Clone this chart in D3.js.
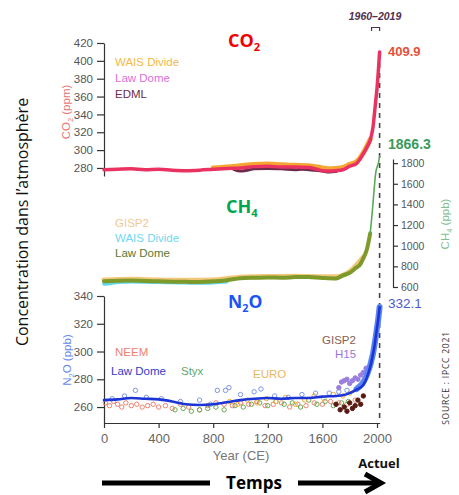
<!DOCTYPE html>
<html>
<head>
<meta charset="utf-8">
<script src="https://cdn.jsdelivr.net/npm/d3@7"></script>
<style>
  body { margin: 0; background: #fff; }
  svg text { font-family: "Liberation Sans", Arial, sans-serif; }
</style>
</head>
<body>
<svg id="chart" width="459" height="495"></svg>
<script>
// values
const xTicks = [0, 400, 800, 1200, 1600, 2000];
const co2Ticks = [280, 300, 320, 340, 360, 380, 400, 420];
const ch4Ticks = [600, 800, 1000, 1200, 1400, 1600, 1800];
const n2oTicks = [260, 280, 300, 320, 340];

// CO2 (ppm)
const co2Years = [0, 100, 200, 300, 400, 500, 600, 700, 800, 900, 1000, 1100, 1200, 1300, 1400, 1500, 1550, 1600, 1650, 1700, 1750, 1800, 1850, 1900, 1925, 1950, 1960, 1970, 1980, 1990, 2000, 2010, 2019];
const co2LawDome = [278, 278.5, 279, 278, 278.5, 277.5, 277, 277.5, 278.5, 279.5, 280, 281.5, 282, 281, 281, 280.5, 279, 277, 276.5, 277, 278, 282, 285, 296, 303, 311, 317, 325, 339, 354, 369, 389, 409.9];
const co2WaisYears = [800, 900, 1000, 1100, 1200, 1300, 1400, 1500, 1600, 1650, 1700, 1750, 1800, 1850, 1900, 1950];
const co2Wais = [280, 281, 282.5, 284, 284.5, 283.5, 283, 282.5, 280, 279, 279.5, 280.5, 284, 287, 297, 312];
const co2EdmlYears = [950, 1000, 1050, 1100, 1200, 1300, 1400, 1450, 1500, 1550, 1600, 1650, 1700];
const co2Edml = [278.5, 276.5, 277.5, 279, 279.5, 279, 278, 278.5, 278, 277.5, 276.5, 275.5, 276];

// CH4 (ppb)
const ch4Years = [0, 100, 200, 300, 400, 500, 600, 700, 800, 900, 1000, 1100, 1200, 1300, 1400, 1500, 1600, 1700, 1750, 1800, 1850, 1875, 1900, 1925, 1950];
const ch4LawDome = [655, 660, 662, 658, 655, 652, 650, 648, 655, 665, 685, 690, 693, 690, 696, 698, 688, 682, 712, 738, 790, 815, 880, 960, 1120];
const ch4GispYears = [0, 200, 400, 600, 800, 1000, 1200, 1400, 1600, 1700, 1800, 1900];
const ch4Gisp = [668, 675, 668, 665, 668, 695, 702, 705, 700, 700, 750, 890];
const ch4WaisYears = [0, 50, 100, 150, 200, 300, 400, 500, 600, 700, 800, 900];
const ch4Wais = [630, 635, 645, 648, 650, 648, 645, 643, 640, 638, 642, 650];
const ch4ModernYears = [1950, 1960, 1970, 1980, 1990, 2000, 2010, 2019];
const ch4Modern = [1120, 1250, 1400, 1560, 1700, 1760, 1800, 1866.3];

// N2O (ppb)
const n2oYears = [0, 100, 200, 300, 400, 500, 600, 700, 800, 900, 1000, 1100, 1200, 1300, 1400, 1500, 1600, 1700, 1750, 1800, 1850, 1900, 1925, 1950, 1960, 1970, 1980, 1990, 2000, 2010, 2019];
const n2oLawDome = [265, 265.5, 266.5, 266, 265.5, 264, 262, 261.5, 262, 263.5, 265, 266, 266.5, 266, 266.5, 266.5, 267.5, 268, 268.5, 270, 272.5, 276, 281, 289, 293, 298, 303, 310, 317, 324, 332.1];
const n2oModernYears = [1850, 1875, 1900, 1925, 1940, 1950, 1960, 1970, 1980, 1990, 2000, 2010, 2019];
const n2oModern = [273, 275, 278, 283, 287, 290, 294, 298, 304, 310, 317, 324, 332.1];

const neemYears = [10, 40, 70, 100, 130, 160, 200, 240, 280, 320, 360, 400, 450, 500, 560, 620, 700, 760, 820, 880, 940, 1000, 1060, 1120, 1180, 1240, 1300, 1360, 1420, 1480, 1540, 1600, 1660, 1720, 1780, 1840];
const neemVals = [263, 261, 264, 262, 260, 263, 261, 262, 260, 261, 262, 260, 261, 259, 262, 260, 258, 261, 263, 262, 261, 263, 262, 264, 261, 262, 263, 260, 262, 261, 263, 262, 264, 263, 262, 265];
const styxYears = [520, 580, 640, 700, 760, 820, 880, 960, 1020, 1080, 1140, 1200, 1260, 1320, 1380, 1440, 1500, 1560, 1620, 1680, 1740, 1790];
const styxVals = [258, 259, 257, 258, 259, 260, 258, 261, 260, 262, 263, 261, 264, 262, 263, 260, 265, 262, 264, 261, 263, 264];
const euroYears = [920, 980, 1050, 1120, 1190, 1260, 1330, 1400, 1470, 1540, 1610, 1680, 1750, 1800];
const euroVals = [264, 262, 265, 263, 266, 264, 267, 262, 265, 268, 266, 269, 268, 270];
const lawPtsYears = [60, 150, 230, 310, 420, 560, 700, 780, 830, 890, 915, 1000, 1100, 1150, 1250, 1350, 1450, 1550, 1650, 1720, 1780];
const lawPtsVals = [266, 268, 272, 267, 266, 264, 265, 262, 272, 272, 274, 269, 271, 273, 268, 267, 269, 270, 270, 271, 272];
const gispYears = [1700, 1730, 1760, 1780, 1800, 1820, 1840, 1860, 1880, 1900];
const gispVals = [262, 258, 260, 257, 263, 259, 261, 265, 262, 268];
const h15Years = [1720, 1740, 1760, 1780, 1800, 1820, 1840, 1860, 1880, 1900, 1920];
const h15Vals = [274, 278, 279, 280, 277, 279, 281, 280, 283, 285, 288];

const co2Legend = ["WAIS Divide", "Law Dome", "EDML"];
const ch4Legend = ["GISP2", "WAIS Divide", "Law Dome"];

const svg = d3.select("#chart");

const x = d3.scaleLinear().domain([0, 2019]).range([104, 379.6]);
const yCO2 = d3.scaleLinear().domain([271, 420]).range([176, 43]);
const yCH4 = d3.scaleLinear().domain([600, 1840]).range([287, 159]);
const yN2O = d3.scaleLinear().domain([248.5, 340]).range([423, 296]);
const fmt = d3.format("d");

function pairs(xs, ys) { return xs.map((d, i) => [d, ys[i]]); }

function drawLine(scale, data, color, width) {
  const line = d3.line()
    .x(d => x(d[0]))
    .y(d => scale(d[1]))
    .curve(d3.curveMonotoneX);
  svg.append("path")
    .datum(data)
    .attr("fill", "none")
    .attr("stroke", color)
    .attr("stroke-width", width)
    .attr("stroke-linejoin", "round")
    .attr("stroke-linecap", "round")
    .attr("d", line);
}

function styleAxis(g, size, color) {
  g.selectAll("path, line").attr("stroke", "#333").attr("stroke-width", 1.2);
  g.selectAll("text").attr("font-size", size).attr("fill", color)
    .attr("font-family", "'Liberation Sans', Arial, sans-serif");
}

// axes
const gx = svg.append("g").attr("transform", "translate(0,423)")
  .call(d3.axisBottom(x).tickValues(xTicks).tickFormat(fmt).tickSize(5).tickSizeOuter(0).tickPadding(6));
styleAxis(gx, 13, "#666");

const gco2 = svg.append("g").attr("transform", "translate(104,0)")
  .call(d3.axisLeft(yCO2).tickValues(co2Ticks).tickFormat(fmt).tickSize(7).tickSizeOuter(0).tickPadding(4));
styleAxis(gco2, 11.5, "#555");

const gn2o = svg.append("g").attr("transform", "translate(104,0)")
  .call(d3.axisLeft(yN2O).tickValues(n2oTicks).tickFormat(fmt).tickSize(7).tickSizeOuter(0).tickPadding(4));
styleAxis(gn2o, 11.5, "#555");

const gch4 = svg.append("g").attr("transform", "translate(393,0)")
  .call(d3.axisRight(yCH4).tickValues(ch4Ticks).tickFormat(fmt).tickSize(5).tickSizeOuter(0).tickPadding(3));
styleAxis(gch4, 10.5, "#555");

// dashed "today" line
svg.append("line")
  .attr("x1", x(2019)).attr("x2", x(2019))
  .attr("y1", 53).attr("y2", 423)
  .attr("stroke", "#444").attr("stroke-width", 1.6)
  .attr("stroke-dasharray", "5,5");

// CO2 records
drawLine(yCO2, pairs(co2EdmlYears, co2Edml), "#6e2a4a", 3);
drawLine(yCO2, pairs(co2WaisYears, co2Wais), "#f7a531", 5);
drawLine(yCO2, pairs(co2Years, co2LawDome), "#ea3262", 3.5);

// CH4 records
drawLine(yCH4, pairs(ch4GispYears, ch4Gisp), "#f2c77a", 5);
drawLine(yCH4, pairs(ch4WaisYears, ch4Wais), "#5fd8ea", 3.5);
drawLine(yCH4, pairs(ch4Years, ch4LawDome), "#7d9a2a", 4);
drawLine(yCH4, pairs(ch4ModernYears, ch4Modern), "#5aaa5a", 1.6);

// N2O scatter records
function scatter(xs, ys, color, filled) {
  svg.append("g").selectAll("circle")
    .data(pairs(xs, ys))
    .enter().append("circle")
    .attr("cx", d => x(d[0]))
    .attr("cy", d => yN2O(d[1]))
    .attr("r", 2.2)
    .attr("fill", filled ? color : "none")
    .attr("stroke", color)
    .attr("stroke-width", 1);
}
scatter(neemYears, neemVals, "#ee8270", false);
scatter(styxYears, styxVals, "#6aa84f", false);
scatter(euroYears, euroVals, "#f0b040", false);
scatter(lawPtsYears, lawPtsVals, "#7d95e6", false);
scatter(h15Years, h15Vals, "#9a7ee0", true);
scatter(gispYears, gispVals, "#5a1a14", true);

drawLine(yN2O, pairs(n2oModernYears, n2oModern), "#5a86f2", 6);
drawLine(yN2O, pairs(n2oYears, n2oLawDome), "#1c34d6", 2.6);

// titles with subscripts
function formula(xPos, yPos, parts, color, size) {
  const t = svg.append("text").attr("x", xPos).attr("y", yPos)
    .attr("fill", color).attr("font-size", size).attr("font-weight", "bold")
    .style("font-family", "'Open Sans', 'Noto Sans', sans-serif");
  parts.forEach(p => {
    if (p.sub) t.append("tspan").attr("dy", size * 0.22).attr("font-size", size * 0.62).text(p.t);
    else t.append("tspan").attr("dy", p.back ? -size * 0.22 : 0).text(p.t);
  });
}
formula(228, 47, [{t: "CO"}, {t: "2", sub: true}], "#f00000", 18);
formula(226, 213, [{t: "CH"}, {t: "4", sub: true}], "#00a550", 18);
formula(228, 308, [{t: "N"}, {t: "2", sub: true}, {t: "O", back: true}], "#1a55f5", 17.5);

// end values
svg.append("text").attr("x", 388).attr("y", 56).attr("font-size", 13).attr("font-weight", "bold")
  .attr("fill", "#e8503c").text(co2LawDome[co2LawDome.length - 1].toFixed(1));
svg.append("text").attr("x", 388).attr("y", 149).attr("font-size", 14).attr("font-weight", "bold")
  .attr("fill", "#3a9a5a").text(ch4Modern[ch4Modern.length - 1].toFixed(1));
svg.append("text").attr("x", 388).attr("y", 308).attr("font-size", 13.5)
  .attr("fill", "#4a5ad0").text(n2oModern[n2oModern.length - 1].toFixed(1));

// 1960-2019 bracket
svg.append("text").attr("x", 375).attr("y", 20).attr("text-anchor", "middle")
  .attr("font-size", 10.5).attr("font-style", "italic").attr("font-weight", "bold")
  .attr("fill", "#503050").text("1960–2019");
svg.append("path").attr("d", `M${x(1960)},31V27.5H${x(2019)}V31`)
  .attr("fill", "none").attr("stroke", "#503050").attr("stroke-width", 1.2);

// legends
const co2Colors = ["#f5b847", "#e070d8", "#6e2a4a"];
co2Legend.forEach((name, i) => {
  svg.append("text").attr("x", 115).attr("y", 66 + i * 16)
    .attr("font-size", 11.5).attr("fill", co2Colors[i]).text(name);
});
const ch4Colors = ["#f0c890", "#70d8f0", "#5a7a30"];
ch4Legend.forEach((name, i) => {
  svg.append("text").attr("x", 115).attr("y", 227 + i * 15)
    .attr("font-size", 11.5).attr("fill", ch4Colors[i]).text(name);
});
const n2oLabels = [
  {t: "NEEM", x: 115, y: 356, c: "#ee8270"},
  {t: "Law Dome", x: 111, y: 375, c: "#3040c8"},
  {t: "Styx", x: 181, y: 375, c: "#60a870"},
  {t: "EURO", x: 253, y: 378, c: "#e8b860"},
  {t: "GISP2", x: 322, y: 344, c: "#8a6050"},
  {t: "H15", x: 335, y: 358, c: "#9878d8"}
];
n2oLabels.forEach(l => {
  svg.append("text").attr("x", l.x).attr("y", l.y)
    .attr("font-size", 11.5).attr("fill", l.c).text(l.t);
});

// rotated axis titles
function vText(xPos, yPos, parts, color, size) {
  const t = svg.append("text").attr("transform", `translate(${xPos},${yPos}) rotate(-90)`)
    .attr("text-anchor", "middle").attr("font-size", size).attr("fill", color);
  parts.forEach(p => {
    if (p.sub) t.append("tspan").attr("dy", size * 0.22).attr("font-size", size * 0.65).text(p.t);
    else t.append("tspan").attr("dy", p.back ? -size * 0.22 : 0).text(p.t);
  });
  return t;
}
vText(70, 112, [{t: "CO"}, {t: "2", sub: true}, {t: " (ppm)", back: true}], "#e87878", 11.5);
vText(449, 224, [{t: "CH"}, {t: "4", sub: true}, {t: " (ppb)", back: true}], "#80c090", 11.5);
vText(71, 360, [{t: "N"}, {t: "2", sub: true}, {t: "O (ppb)", back: true}], "#6a8ae8", 11.5);

vText(28, 222, [{t: "Concentration dans l’atmosphère"}], "#111", 16)
  .style("font-family", "'Open Sans', 'Noto Sans', sans-serif");
vText(449, 378, [{t: "SOURCE : IPCC 2021"}], "#333", 8.5)
  .style("font-family", "'Open Sans', 'Noto Sans', sans-serif")
  .attr("letter-spacing", 0.8);

// x axis title and time arrow
svg.append("text").attr("x", 241).attr("y", 460).attr("text-anchor", "middle")
  .attr("font-size", 13).attr("fill", "#777").text("Year (CE)");
svg.append("text").attr("x", 379).attr("y", 468).attr("text-anchor", "middle")
  .attr("font-size", 13).attr("font-weight", "bold").attr("fill", "#111")
  .style("font-family", "'Open Sans', 'Noto Sans', sans-serif").text("Actuel");

svg.append("line").attr("x1", 102).attr("x2", 210).attr("y1", 483).attr("y2", 483)
  .attr("stroke", "#000").attr("stroke-width", 5);
svg.append("line").attr("x1", 298).attr("x2", 378).attr("y1", 483).attr("y2", 483)
  .attr("stroke", "#000").attr("stroke-width", 5);
svg.append("path").attr("d", "M365,474L381,483L365,492")
  .attr("fill", "none").attr("stroke", "#000").attr("stroke-width", 5);
svg.append("text").attr("x", 254).attr("y", 489).attr("text-anchor", "middle")
  .attr("font-size", 17).attr("font-weight", "bold").attr("fill", "#000")
  .style("font-family", "'Open Sans', 'Noto Sans', sans-serif").text("Temps");
</script>
</body>
</html>
